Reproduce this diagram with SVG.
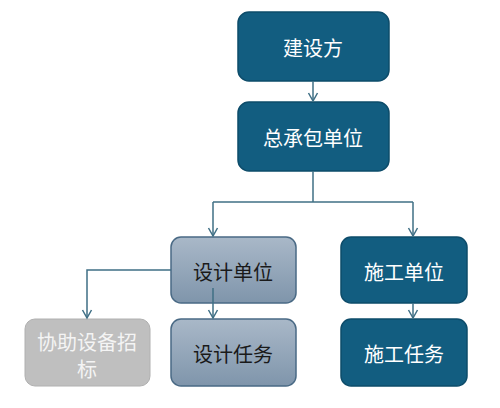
<svg xmlns="http://www.w3.org/2000/svg" width="500" height="408" viewBox="0 0 500 408">
<defs>
<linearGradient id="lg" x1="0" y1="0" x2="0" y2="1">
<stop offset="0" stop-color="#a9b8c8"/>
<stop offset="1" stop-color="#7f95ab"/>
</linearGradient>
<marker id="ah" markerWidth="12" markerHeight="12" refX="10" refY="6" orient="auto" markerUnits="userSpaceOnUse" viewBox="0 0 12 12">
<path d="M2,1.5 L10,6 L2,10.5" fill="none" stroke="#3f6f85" stroke-width="1.5"/>
</marker>
<style>
.dark{fill:#125d80;stroke:#0d4c6a;stroke-width:1.5}
.light{fill:url(#lg);stroke:#4a6a85;stroke-width:1.5}
.gray{fill:#bfbfbf;stroke:#b0b0b0;stroke-width:1}
text{font-family:"Noto Sans CJK SC","Noto Sans",sans-serif;font-size:20px;text-anchor:middle;dominant-baseline:central}
.wt{fill:#ffffff}
.bt{fill:#1a1a1a}
.gt{fill:#f4f4f4}
.c{fill:none;stroke:#3f6f85;stroke-width:1.5}
</style>
</defs>
<rect width="500" height="408" fill="#ffffff"/>
<g id="n1"><rect class="dark" x="238" y="12" width="151" height="69" rx="11"/><text class="wt" x="313" y="47">建设方</text></g>
<g id="n2"><rect class="dark" x="238" y="102" width="151" height="69" rx="11"/><text class="wt" x="313" y="137">总承包单位</text></g>
<g id="n3"><rect class="light" x="171" y="237" width="125" height="66" rx="10"/><text class="bt" x="233" y="271">设计单位</text></g>
<g id="n4"><rect class="dark" x="341" y="237" width="126" height="66" rx="10"/><text class="wt" x="404" y="271">施工单位</text></g>
<g id="n5"><rect class="gray" x="25" y="319" width="125" height="67" rx="10"/><text class="gt" x="87" y="341">协助设备招<tspan x="87" dy="27">标</tspan></text></g>
<g id="n6"><rect class="light" x="171" y="319" width="125" height="67" rx="10"/><text class="bt" x="233" y="353">设计任务</text></g>
<g id="n7"><rect class="dark" x="341" y="319" width="126" height="67" rx="10"/><text class="wt" x="404" y="353">施工任务</text></g>
<g id="connectors">
<path class="c" d="M313,81 V101" marker-end="url(#ah)"/>
<path class="c" d="M313,171 V202"/>
<path class="c" d="M213,202 H413"/>
<path class="c" d="M213,202 V236" marker-end="url(#ah)"/>
<path class="c" d="M413,202 V236" marker-end="url(#ah)"/>
<path class="c" d="M171,270 H87 V318" marker-end="url(#ah)"/>
<path class="c" d="M213,288 V318" marker-end="url(#ah)"/>
<path class="c" d="M413,303 V318" marker-end="url(#ah)"/>
</g>
</svg>
